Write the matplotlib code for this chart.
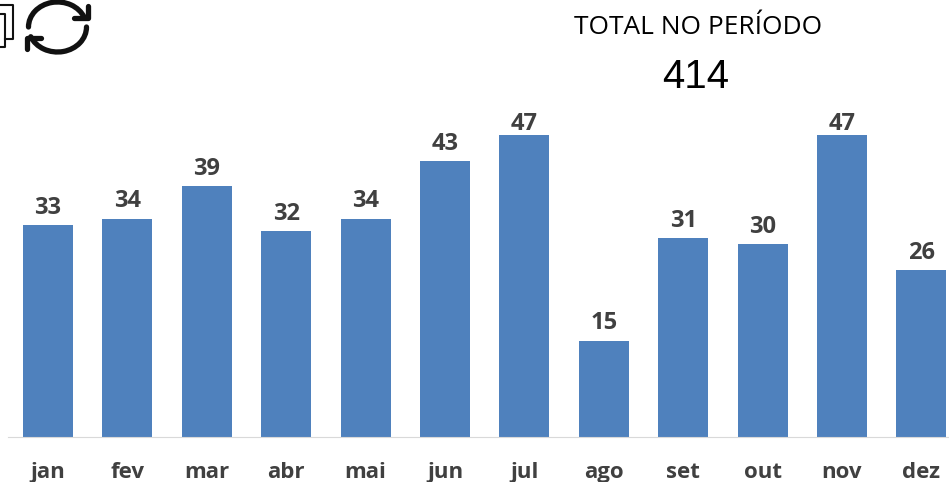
import numpy as np
import matplotlib
matplotlib.use('Agg')
import matplotlib.pyplot as plt
from matplotlib.patches import Arc

months = ['jan', 'fev', 'mar', 'abr', 'mai', 'jun', 'jul', 'ago', 'set', 'out', 'nov', 'dez']
values = [33, 34, 39, 32, 34, 43, 47, 15, 31, 30, 47, 26]
total_label = 'TOTAL NO PERÍODO'
total_value = '414'

W, H = 949, 482
fig = plt.figure(figsize=(W / 100, H / 100), dpi=100)
plt.rcParams['font.family'] = ['Open Sans', 'DejaVu Sans']

# axes spans the plot area, bottom at the baseline y=437. It runs a bit past the right edge, like the source crop
ax = fig.add_axes([8.3 / W, 1 - 437 / H, 952.8 / W, 437 / H])
x = np.arange(len(months))
ax.bar(x, values, width=0.63, color='#4f81bd')
ax.set_xlim(-0.5, 11.5)
# 47 reaches y=135 px, so 302 px for 47
ax.set_ylim(0, 47 * 437 / 302)
for side in ['top', 'left', 'right']:
    ax.spines[side].set_visible(False)
ax.spines['bottom'].set_color('#d9d9d9')
ax.set_yticks([])
ax.set_xticks(x)
ax.set_xticklabels(months, fontsize=16, fontweight='bold', color='#404040')
ax.tick_params(axis='x', length=0, pad=18)
for xi, v in zip(x, values):
    # the tallest bars have their label squeezed closer to the bar
    off = -1 if v == max(values) else 3.7
    ax.annotate(str(v), (xi, v), xytext=(0, off), textcoords='offset points', ha='center', va='bottom',
                fontsize=17, fontweight='bold', color='#404040')

fig.text(698 / W, 1 - 28 / H, total_label, ha='center', va='center', fontsize=18.9, color='black',
         family=['Open Sans', 'DejaVu Sans'])
fig.text(696 / W, 1 - 77 / H, total_value, ha='center', va='center', fontsize=29, color='black',
         family=['Liberation Sans'])

# toolbar icons, top left
over = fig.add_axes([0, 0, 1, 1])
over.set_xlim(0, W)
over.set_ylim(H, 0)
over.axis('off')
over.patch.set_alpha(0)
over.plot([0, 13, 13, 5], [4.5, 4.5, 39, 39], color='#111111', lw=1.5)
over.plot([0, 5, 5, 0], [13.5, 13.5, 47, 47], color='#111111', lw=1.5)
over.add_patch(Arc((57.5, 27), 58, 50, theta1=180, theta2=340, ec='#111111', lw=3.8, capstyle='round'))
over.add_patch(Arc((57.5, 27), 58, 50, theta1=0, theta2=160, ec='#111111', lw=3.8, capstyle='round'))
over.plot([74, 88, 88], [18, 18, 6], color='#111111', lw=3.8, solid_capstyle='round', solid_joinstyle='round')
over.plot([41, 27, 27], [38, 38, 49], color='#111111', lw=3.8, solid_capstyle='round', solid_joinstyle='round')

fig.savefig('out.png', dpi=100)
